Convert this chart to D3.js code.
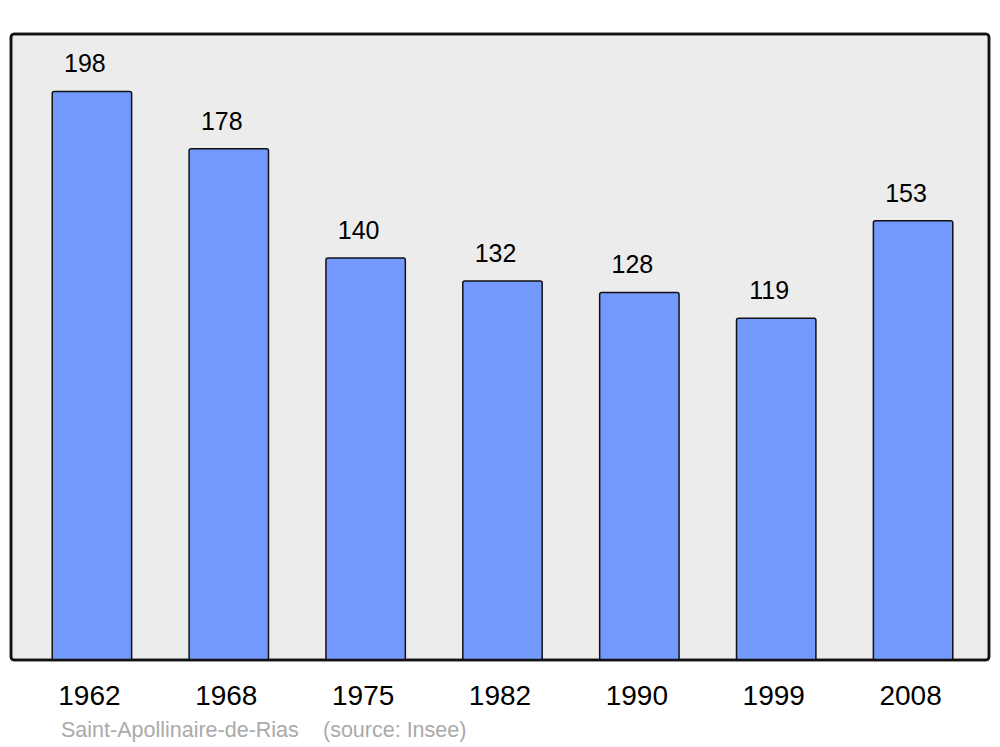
<!DOCTYPE html>
<meta charset="utf-8">
<style>
body { margin: 0; background: #fff; }
svg { display: block; font-family: "Liberation Sans", Arial, sans-serif; }
.frame { fill: #ececec; stroke: #111; stroke-width: 2.5px; }
.bar { fill: #7399ff; stroke: #111; stroke-width: 1.5px; }
.val { font-size: 25px; fill: #000; text-anchor: middle; }
.year { font-size: 28px; fill: #000; text-anchor: middle; }
.foot { font-size: 21.5px; fill: #aaa; }
</style>
<body>
<div id="chart"></div>
<script src="https://cdn.jsdelivr.net/npm/d3@7"></script>
<script>
var years = ["1962", "1968", "1975", "1982", "1990", "1999", "2008"];
var population = [198, 178, 140, 132, 128, 119, 153];
var town = "Saint-Apollinaire-de-Rias";
var source = "(source: Insee)";

var width = 1000, height = 747;
var frame = { left: 11, right: 989, top: 34, bottom: 660 };

var svg = d3.select("#chart").append("svg")
    .attr("width", width)
    .attr("height", height);

var x = d3.scaleBand()
    .domain(years)
    .range([23.5, 981.5])
    .paddingInner(0.42)
    .paddingOuter(0.21);

var y = d3.scaleLinear()
    .domain([0, 218])
    .range([frame.bottom, frame.top]);

svg.append("rect")
    .attr("class", "frame")
    .attr("x", frame.left)
    .attr("y", frame.top)
    .attr("width", frame.right - frame.left)
    .attr("height", frame.bottom - frame.top)
    .attr("rx", 3);

var data = years.map(function(d, i) { return { year: d, value: population[i] }; });

svg.selectAll(".bar")
    .data(data)
    .enter().append("rect")
    .attr("class", "bar")
    .attr("x", function(d) { return x(d.year); })
    .attr("y", function(d) { return y(d.value); })
    .attr("width", x.bandwidth())
    .attr("height", function(d) { return y(0) - y(d.value); })
    .attr("rx", 2);

svg.selectAll(".val")
    .data(data)
    .enter().append("text")
    .attr("class", "val")
    .attr("x", function(d) { return x(d.year) + x.bandwidth() / 2 - 7; })
    .attr("y", function(d) { return y(d.value) - 19; })
    .text(function(d) { return d.value; });

// redraw the frame outline on top so the bar bottoms sit under it
svg.append("rect")
    .attr("x", frame.left)
    .attr("y", frame.top)
    .attr("width", frame.right - frame.left)
    .attr("height", frame.bottom - frame.top)
    .attr("rx", 3)
    .style("fill", "none")
    .style("stroke", "#111")
    .style("stroke-width", "2.5px");

svg.selectAll(".year")
    .data(years)
    .enter().append("text")
    .attr("class", "year")
    .attr("x", function(d) { return x(d) + x.bandwidth() / 2 - 2.5; })
    .attr("y", 705)
    .text(function(d) { return d; });

svg.append("text")
    .attr("class", "foot")
    .attr("x", 61)
    .attr("y", 737)
    .text(town);

svg.append("text")
    .attr("class", "foot")
    .attr("x", 323)
    .attr("y", 737)
    .text(source);
</script>
</body>
